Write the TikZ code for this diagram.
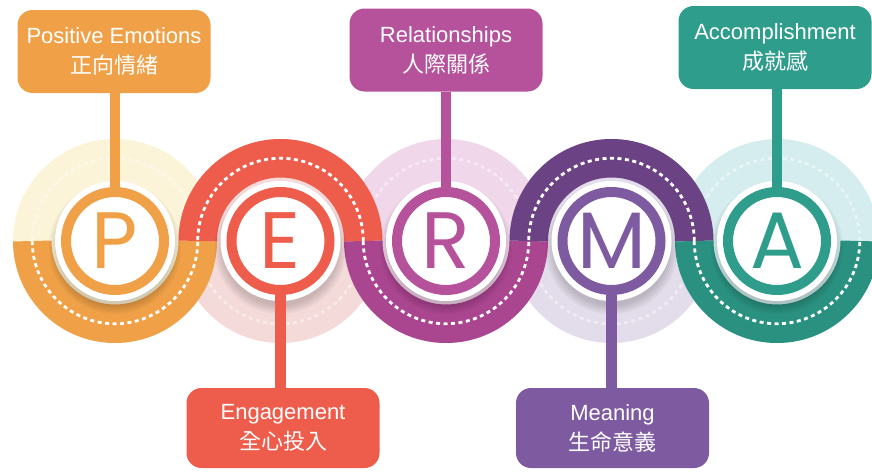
\documentclass[tikz,border=0pt]{standalone}
\usepackage{fontspec}
\setmainfont{Liberation Sans}
\newfontfamily\cjk{Noto Sans CJK TC}
\newfontfamily\letterfont{Poppins}

\definecolor{porange}{HTML}{F0A148}
\definecolor{pfade}{HTML}{FBF4D8}
\definecolor{ered}{HTML}{EE5C4C}
\definecolor{efade}{HTML}{F5DADA}
\definecolor{rband}{HTML}{AA4590}
\definecolor{rring}{HTML}{B5529B}
\definecolor{rfade}{HTML}{F1D7EA}
\definecolor{mband}{HTML}{6B4283}
\definecolor{mring}{HTML}{7E5BA0}
\definecolor{mfade}{HTML}{E3DCEA}
\definecolor{aband}{HTML}{2A9180}
\definecolor{aring}{HTML}{2F9D8B}
\definecolor{afade}{HTML}{D5EDEE}

\tikzset{
  bandarc/.style={draw=#1, line width=38.5pt},
  bandots/.style={draw=white, line width=2.8pt, dash pattern=on 4pt off 3.5pt},
  letterring/.style={circle, draw=#1, line width=10pt, minimum size=98pt, inner sep=0pt,
    text=#1, font=\letterfont\fontsize{80}{80}\selectfont},
  stemline/.style={draw=#1, line width=10.5pt},
  titlebox/.style={rounded corners=15pt, fill=#1, text=white, minimum width=193pt,
    minimum height=83pt, inner sep=0pt, align=center, font=\fontsize{22}{30}\selectfont},
}

\begin{document}
\begin{tikzpicture}[x=1pt,y=1pt]
  \useasboundingbox (0,0) rectangle (872,-471);
  % faded discs
  \foreach \x/\f/\st in {115/pfade/180, 280.5/efade/0, 446/rfade/180, 611.5/mfade/0, 777/afade/180}{
    \fill[\f] (\x,-241) circle[radius=102];
    \draw[bandots, opacity=.45] (\x,-241) ++({\st+180}:82.75) arc[start angle=\st+180, delta angle=180, radius=82.75];
  }
  % the wave
  \foreach \x/\c/\st in {115/porange/180, 280.5/ered/0, 446/rband/180, 611.5/mband/0, 777/aband/180}{
    \draw[bandarc=\c] (\x,-241) ++(\st:82.75) arc[start angle=\st, delta angle=180, radius=82.75];
    \draw[bandots] (\x,-241) ++(\st:82.75) arc[start angle=\st, delta angle=180, radius=82.75];
  }
  % letters
  \foreach \n/\x/\c in {P/115/porange, E/280.5/ered, R/446/rring, M/611.5/mring, A/777/aring}{
    \foreach \k in {0,...,4} \fill[black, opacity=.035] (\x,-248) circle[radius=58+2*\k];
    \fill[white] (\x,-241) circle[radius=60];
    \node[letterring=\c] (\n) at (\x,-241) {\n};
  }
  % boxes
  \node[titlebox=porange] (pos) at (114,-51.5) {Positive Emotions\\{\cjk 正向情緒}};
  \node[titlebox=rring] (rel) at (446,-50) {Relationships\\{\cjk 人際關係}};
  \node[titlebox=aring] (acc) at (775,-47.5) {Accomplishment\\{\cjk 成就感}};
  \node[titlebox=ered, minimum height=80pt] (eng) at (283,-428) {Engagement\\{\cjk 全心投入}};
  \node[titlebox=mring, minimum height=80pt] (mea) at (612.5,-428) {Meaning\\{\cjk 生命意義}};
  % stems
  \draw[stemline=porange] (P.north) -- (P.north |- pos.south);
  \draw[stemline=rring] (R.north) -- (R.north |- rel.south);
  \draw[stemline=aring] (A.north) -- (A.north |- acc.south);
  \draw[stemline=ered] (E.south) -- (E.south |- eng.north);
  \draw[stemline=mring] (M.south) -- (M.south |- mea.north);
\end{tikzpicture}
\end{document}
